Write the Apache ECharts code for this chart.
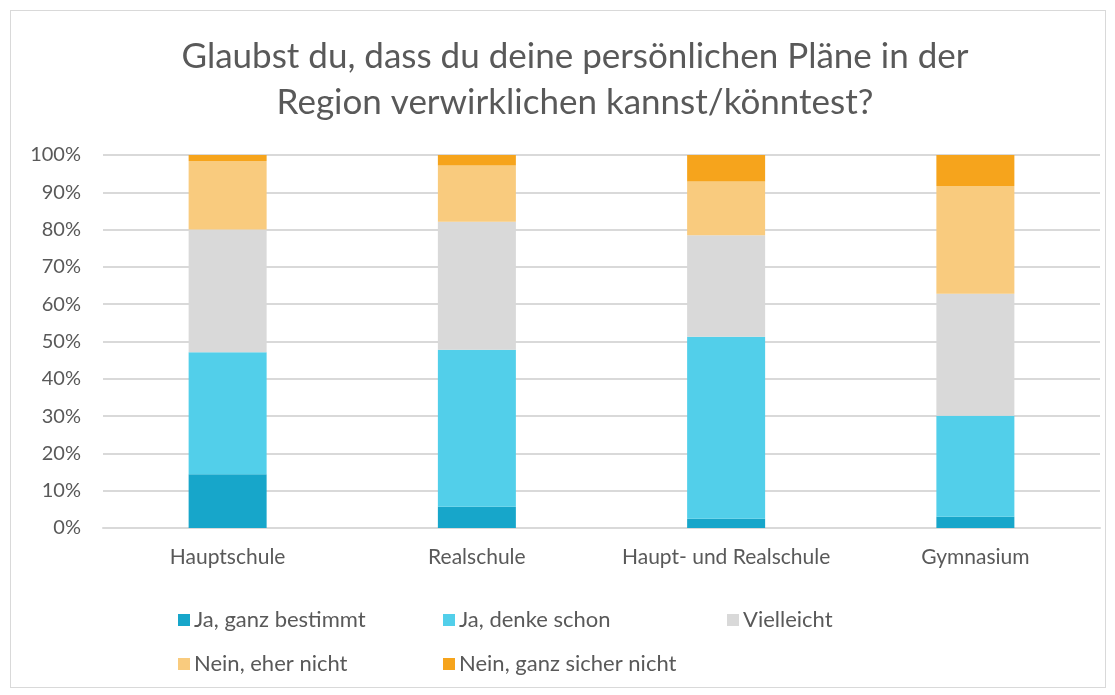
<!DOCTYPE html>
<html>
<head>
<meta charset="utf-8">
<script src="https://cdn.jsdelivr.net/npm/echarts@6/dist/echarts.min.js"></script>
<style>
  html, body { margin: 0; padding: 0; background: #fff; }
  #frame { position: absolute; left: 10px; top: 10px; width: 1094px; height: 676px; border: 1px solid #d9d9d9; }
  #chart { position: absolute; left: 0; top: 0; width: 1115px; height: 695px; }
</style>
</head>
<body>
<div id="frame"></div>
<div id="chart"></div>
<script>
var categories = ['Hauptschule', 'Realschule', 'Haupt- und Realschule', 'Gymnasium'];
var seriesNames = ['Ja, ganz bestimmt', 'Ja, denke schon', 'Vielleicht', 'Nein, eher nicht', 'Nein, ganz sicher nicht'];
var jaGanzBestimmt = [14.4, 5.7, 2.5, 3.0];
var jaDenkeSchon = [32.7, 42.1, 48.8, 27.1];
var vielleicht = [32.9, 34.3, 27.2, 32.7];
var neinEherNicht = [18.4, 15.1, 14.4, 28.9];
var neinGanzSicherNicht = [1.6, 2.8, 7.1, 8.3];
var yTicks = ['0%', '10%', '20%', '30%', '40%', '50%', '60%', '70%', '80%', '90%', '100%'];

var colors = ['#17a6ca', '#52cfea', '#d9d9d9', '#f9cb7e', '#f6a41c'];
var values = [jaGanzBestimmt, jaDenkeSchon, vielleicht, neinEherNicht, neinGanzSicherNicht];
var font = 'Lato, "Open Sans", sans-serif';

var chart = echarts.init(document.getElementById('chart'));

// legend positions (two rows, like the original)
var legendPos = [[173, 604], [438, 604], [722, 604], [173, 648], [438, 648]];
var legends = seriesNames.map(function (name, i) {
	return {
		data: [name],
		left: legendPos[i][0],
		top: legendPos[i][1],
		icon: 'rect',
		itemWidth: 12,
		itemHeight: 12,
		itemGap: 0,
		textStyle: { fontFamily: font, fontSize: 22, color: '#595959', padding: [0, 0, 0, -1] },
		selectedMode: false
	};
});

var series = seriesNames.map(function (name, i) {
	return {
		name: name,
		type: 'bar',
		stack: 'total',
		barWidth: 78,
		itemStyle: { color: colors[i] },
		data: values[i]
	};
});

chart.setOption({
	animation: false,
	title: {
		text: 'Glaubst du, dass du deine persönlichen Pläne in der\nRegion verwirklichen kannst/könntest?',
		left: 570,
		textAlign: 'center',
		top: 29,
		textStyle: { fontFamily: font, fontSize: 35, fontWeight: 'normal', color: '#595959', lineHeight: 46 }
	},
	legend: legends,
	grid: { left: 103, right: 15, top: 155, bottom: 167 },
	xAxis: {
		type: 'category',
		data: categories,
		axisLine: { show: true, lineStyle: { color: '#d9d9d9', width: 2 } },
		axisTick: { show: false },
		axisLabel: { interval: 0, fontFamily: font, fontSize: 21, color: '#595959', margin: 19 }
	},
	yAxis: {
		type: 'value',
		min: 0,
		max: 100,
		interval: 10,
		axisLine: { show: false },
		axisTick: { show: false },
		splitLine: { lineStyle: { color: '#d9d9d9', width: 2 } },
		axisLabel: {
			fontFamily: font, fontSize: 20, color: '#595959', margin: 22,
			formatter: function (v) { return yTicks[Math.round(v / 10)]; }
		}
	},
	series: series
});
</script>
</body>
</html>
